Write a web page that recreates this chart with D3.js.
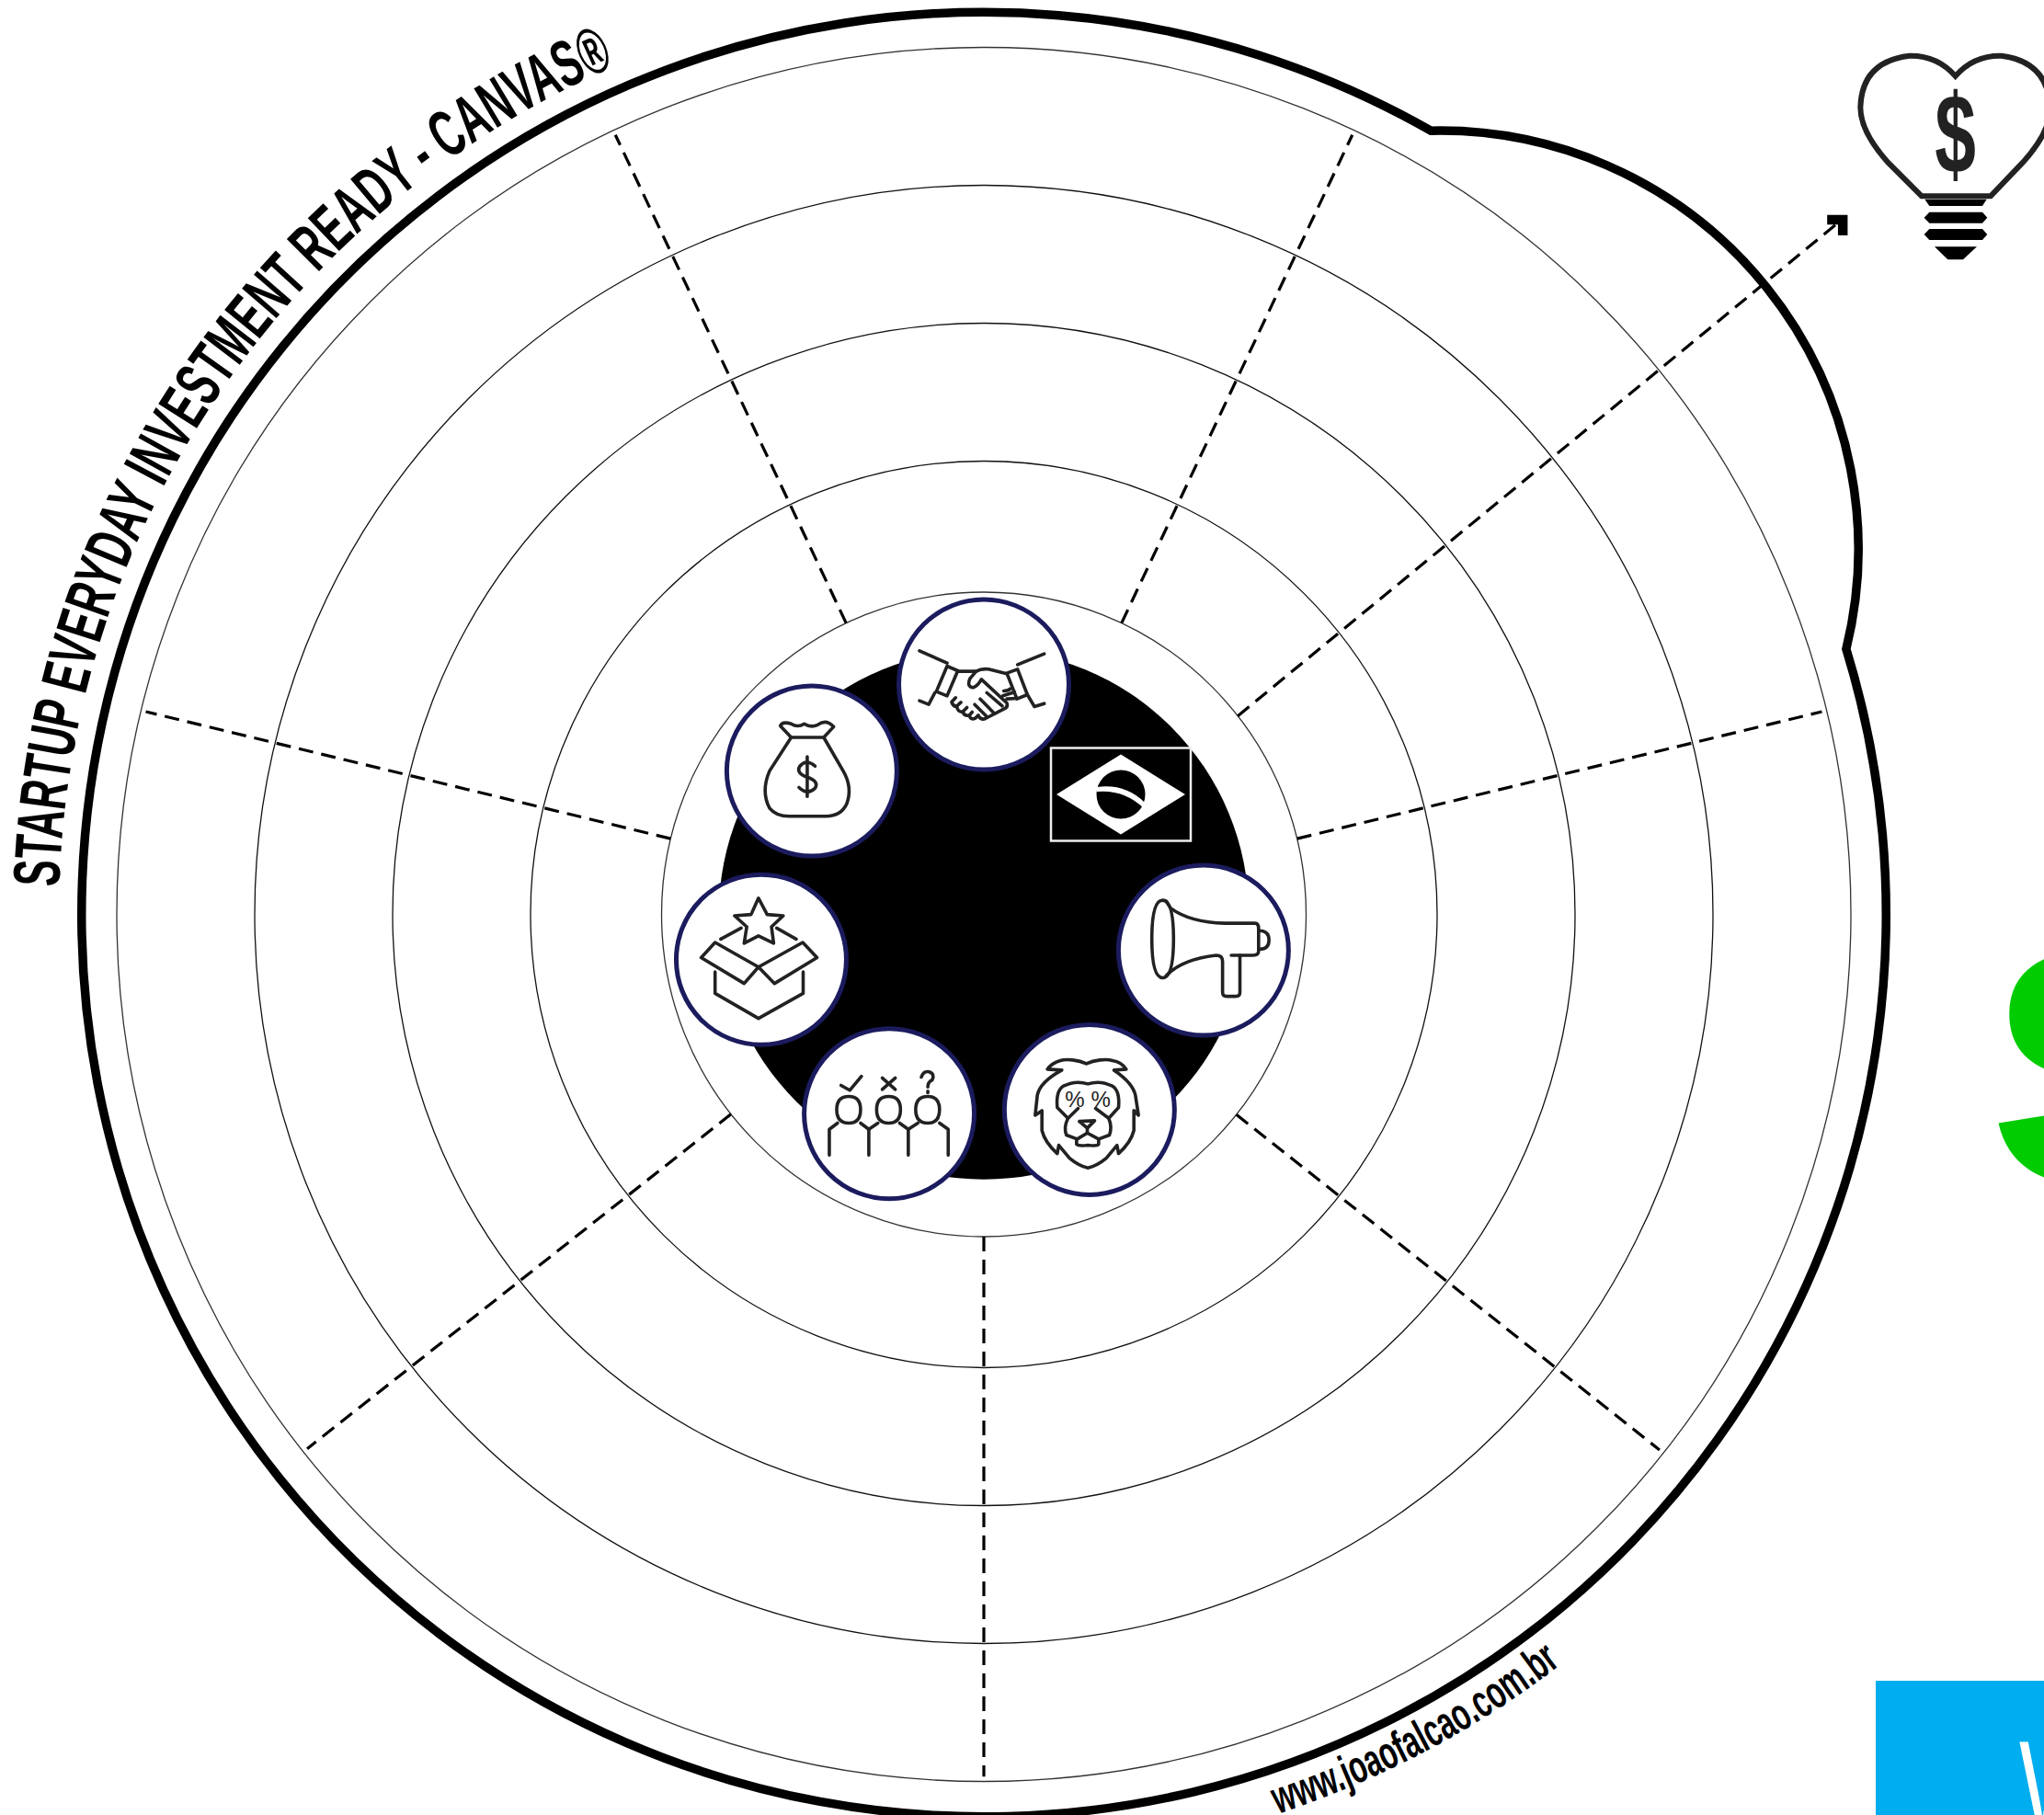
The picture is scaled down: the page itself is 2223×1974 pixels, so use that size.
<!DOCTYPE html>
<html>
<head>
<meta charset="utf-8">
<script src="https://cdn.jsdelivr.net/npm/d3@7"></script>
<style>
  html, body { margin: 0; padding: 0; background: #fff; overflow: hidden; }
  svg { display: block; }
  .glyph path { fill: none; stroke: #222; stroke-width: 3.6px; stroke-linejoin: round; stroke-linecap: round; vector-effect: non-scaling-stroke; }
</style>
</head>
<body>
<div id="cont"></div>
<script>
// canvas data
var title = "STARTUP EVERYDAY INVESTMENT READY - CANVAS®";
var website = "www.joaofalcao.com.br";
var ringLevels = [1.05, 2, 3, 4, 5];
var sectorAngles = [180, 231.7, 283.6, 334.7, 25.3, 76.4, 128.4];
var iconNames = ["handshake", "megaphone", "lion", "people", "box", "money"];
var iconAngles = [0, 99.3, 151.6, 205.4, 258.5, 309.8];
var iconLevels = [0.38, 0.327, 0.323, 0.313, 0.36, 0.337];

var width = 2223, height = 1974;
var cx = 1070, cy = 994.5;

// level -> radius, degrees -> radians
var rScale = d3.scaleLinear().domain([0, 5]).range([193, 943]);
var angleScale = d3.scaleLinear().domain([0, 360]).range([0, 2 * Math.PI]);

var outerLevel = 5.255, discLevel = 0.635, titleLevel = 5.42, siteLevel = 5.575;
var spokeLevel = 4.965, arrowAngle = 51, arrowLevel = 6.77;

function polar(deg, level) {
  return d3.pointRadial(angleScale(deg), rScale(level));
}

var canvas = d3.select("#cont")
  .append("svg")
  .attr("width", width)
  .attr("height", height)
  .style("background", "#fff");

var chart = canvas.append("g").attr("transform", "translate(" + cx + "," + cy + ")");

// outer shape: big circle with the bulge top right
var outerR = rScale(outerLevel);
var c1 = polar(29.7, outerLevel), c2 = polar(72.9, outerLevel);
chart.append("path")
  .attr("d", "M" + c1 + " A455,455 0 0 1 " + c2 + " A" + outerR + "," + outerR + " 0 1 1 " + c1 + " Z")
  .style("fill", "#fff")
  .style("stroke", "#000")
  .style("stroke-width", 9.5)
  .style("stroke-linejoin", "miter");

// rings
chart.selectAll("circle.ring")
  .data(ringLevels)
  .enter()
  .append("circle")
  .attr("class", "ring")
  .attr("r", function(d) { return rScale(d); })
  .style("fill", "none")
  .style("stroke", function(d, i) { return (i == 0 || i == 4) ? "#333" : "#111"; })
  .style("stroke-width", 1.3);

// spokes
chart.selectAll("line.spoke")
  .data(sectorAngles)
  .enter()
  .append("line")
  .attr("class", "spoke")
  .attr("x1", function(d) { return polar(d, ringLevels[0])[0]; })
  .attr("y1", function(d) { return polar(d, ringLevels[0])[1]; })
  .attr("x2", function(d) { return polar(d, spokeLevel)[0]; })
  .attr("y2", function(d) { return polar(d, spokeLevel)[1]; })
  .style("stroke", "#000")
  .style("stroke-width", 3.2)
  .style("stroke-dasharray", "16,9");

// arrow spoke
var a0 = polar(arrowAngle + 1, ringLevels[0]), a1 = polar(arrowAngle, arrowLevel - 0.02);
chart.append("line")
  .attr("x1", a0[0]).attr("y1", a0[1])
  .attr("x2", a1[0]).attr("y2", a1[1])
  .style("stroke", "#000")
  .style("stroke-width", 3.2)
  .style("stroke-dasharray", "16,9");
var tip = polar(arrowAngle, arrowLevel);
chart.append("path")
  .attr("d", "M" + (tip[0] - 22) + "," + (tip[1] + 5) + " L" + (tip[0] - 5) + "," + (tip[1] + 5) + " L" + (tip[0] - 5) + "," + (tip[1] + 22))
  .style("fill", "none")
  .style("stroke", "#000")
  .style("stroke-width", 10.5);

// black disc
chart.append("circle")
  .attr("r", rScale(discLevel))
  .style("fill", "#000");

// flag
var flag = canvas.append("g").attr("transform", "translate(1219,864)");
flag.append("rect")
  .attr("x", -76).attr("y", -50.5)
  .attr("width", 152).attr("height", 101)
  .style("fill", "#000").style("stroke", "#eee").style("stroke-width", 2.5);
flag.append("path").attr("d", "M-70,0 L0,-43.5 L70,0 L0,43.5 Z").style("fill", "#fff");
flag.append("circle").attr("r", 26.5).style("fill", "#000");
flag.append("path")
  .attr("d", "M-26,-8 Q5,-12 26,9 L25,15 Q3,-6 -26.5,-3 Z")
  .style("fill", "#fff");

// icon outlines, each in the coordinates of its own drawing
var glyphs = {
  handshake: { box: [3, 3, 270, 225], d: [
    "M60,115 L150,155", "M150,165 L185,180 L150,262 L115,248 Z", "M60,278 L90,290 L110,252",
    "M467,125 L380,160", "M380,175 L345,188 L378,272 L412,258 Z", "M467,287 L435,297 L412,258",
    "M185,182 L245,182", "M345,190 L285,175 Q262,172 245,182 L225,205 Q213,232 235,235 Q250,230 262,208 L345,285 Q350,300 335,305 L275,336 Q262,342 252,328",
    "M335,246 Q350,246 358,238", "M332,262 L370,250", "M345,272 L378,270",
    "M280,252 L330,295", "M258,272 L305,320", "M240,290 L280,330",
    "M178,268 L165,282 Q168,295 180,297 L195,283", "M182,297 Q183,312 200,315 L215,300", "M202,315 Q205,328 222,326 L232,315", "M222,326 Q228,342 242,335 L252,325"
  ], pct: [] },
  megaphone: { box: [2.119, 2.24, 1291, 928], d: [
    "M1205,808 L1215,825 Q1260,860 1340,862 L1410,862 Q1418,862 1418,875 L1418,930 Q1418,940 1405,940 L1355,940",
    "M1205,990 Q1240,950 1320,940 Q1335,940 1335,955 L1335,1030 Q1335,1040 1345,1040 L1365,1040 Q1375,1040 1375,1030 L1375,940",
    "M1420,880 Q1442,880 1442,903 Q1442,925 1420,925",
    "M1197,806 Q1172,806 1172,900 Q1172,995 1197,995 Q1222,995 1222,900 Q1222,806 1197,806 Z"
  ], pct: [] },
  lion: { box: [3, 3, 255, 262], d: [
    "M245,112 C220,100 180,95 160,102 C140,108 125,120 118,130 L165,133 C115,160 90,190 85,215 L78,280 L100,265 L100,330 Q110,370 150,405 L155,378 L190,420 Q220,445 250,452 Q280,445 310,420 L345,378 L350,405 Q390,370 400,330 L400,265 L415,280 L405,215 C400,190 375,160 335,133 L375,130 C365,115 350,105 330,102 C310,95 270,100 245,112 Z",
    "M185,290 L150,255 Q145,200 170,185 Q210,165 250,178 Q290,165 330,185 Q355,200 350,255 L318,290 L275,258",
    "M185,290 L218,258",
    "M185,290 Q170,320 180,345 L215,358 L248,338 L285,358 L320,345 Q330,320 318,290",
    "M222,300 L272,298 L248,322 Z", "M248,322 L248,338",
    "M213,358 L213,375 Q220,382 250,378 Q280,382 285,375 L285,358"
  ], pct: [[207, 252], [292, 252]] },
  people: { box: [2.119, 2.24, 566, 1327], d: [
    "M455,1258 L475,1270 L502,1236", "M550,1240 L580,1268", "M580,1240 L550,1268",
    "M640,1238 Q645,1222 658,1225 Q672,1230 665,1245 Q655,1250 655,1262", "M655,1272 L655,1276",
    "M473,1285 Q445,1285 445,1317 Q445,1350 473,1350 Q500,1350 500,1317 Q500,1285 473,1285 Z",
    "M565,1285 Q537,1285 537,1317 Q537,1350 565,1350 Q592,1350 592,1317 Q592,1285 565,1285 Z",
    "M655,1285 Q627,1285 627,1317 Q627,1350 655,1350 Q682,1350 682,1317 Q682,1285 655,1285 Z",
    "M447,1350 L428,1365 L428,1428", "M500,1350 L519,1365 L519,1428", "M540,1350 L519,1365",
    "M590,1350 L610,1365 L610,1428", "M632,1350 L610,1365", "M682,1350 L702,1365 L702,1428"
  ], pct: [] },
  box: { box: [2.119, 2.24, 271.5, 950], d: [
    "M265,800 L285,840 L322,843 L295,870 L300,910 L265,892 L232,910 L238,870 L210,843 L248,840 Z",
    "M178,900 L225,873", "M307,873 L352,900",
    "M165,908 L265,968 L232,1008 L133,945 Z", "M367,908 L400,945 L302,1008 L265,968 Z",
    "M165,980 L165,1032 L265,1093 L368,1032 L368,980"
  ], pct: [] },
  money: { box: [2.119, 2.24, 387.5, 490], d: [
    "M315,380 Q320,368 340,375 Q355,385 370,375 Q385,385 400,378 Q420,362 438,382 L415,408 L340,408 Z",
    "M340,408 L290,490 Q270,540 290,580 Q305,600 335,600 L420,600 Q455,600 468,570 Q482,530 460,490 L415,408",
    "M395,478 Q375,460 360,478 Q350,495 377,505 Q405,515 395,532 Q378,550 358,530", "M377,455 L377,552"
  ], pct: [] }
};

var icons = chart.selectAll("g.icon")
  .data(iconNames)
  .enter()
  .append("g")
  .attr("class", "icon")
  .attr("transform", function(d, i) {
    return "translate(" + polar(iconAngles[i], iconLevels[i]) + ")";
  });

icons.append("circle")
  .attr("r", 92.5)
  .style("fill", "#fff")
  .style("stroke", "#1b1b5e")
  .style("stroke-width", 5);

icons.append("g")
  .attr("class", "glyph")
  .attr("transform", function(d) {
    var b = glyphs[d].box;
    return "scale(" + (1 / b[0]) + "," + (1 / b[1]) + ") translate(" + (-b[2]) + "," + (-b[3]) + ")";
  })
  .each(function(d) {
    var g = d3.select(this);
    glyphs[d].d.forEach(function(p) { g.append("path").attr("d", p); });
    glyphs[d].pct.forEach(function(p) {
      g.append("text")
        .attr("x", p[0]).attr("y", p[1])
        .attr("text-anchor", "middle")
        .style("font-family", "Liberation Sans")
        .style("font-size", "72px")
        .style("fill", "#222")
        .text("%");
    });
  });

// curved texts
var defs = canvas.append("defs");
var t0 = polar(-88.3, titleLevel), t1 = polar(-22, titleLevel), tr = rScale(titleLevel);
defs.append("path").attr("id", "titlePath")
  .attr("d", "M" + t0 + " A" + tr + "," + tr + " 0 0 1 " + t1);
var s0 = polar(161.9, siteLevel), s1 = polar(142.3, siteLevel), sr = rScale(siteLevel);
defs.append("path").attr("id", "sitePath")
  .attr("d", "M" + s0 + " A" + sr + "," + sr + " 0 0 0 " + s1);

chart.append("text")
  .style("font-family", "Liberation Sans")
  .style("font-size", "72px")
  .style("font-weight", "700")
  .style("fill", "#000")
  .append("textPath")
  .attr("href", "#titlePath")
  .attr("textLength", 1138)
  .attr("lengthAdjust", "spacingAndGlyphs")
  .text(title);

chart.append("text")
  .style("font-family", "Liberation Sans")
  .style("font-size", "50px")
  .style("font-weight", "700")
  .style("fill", "#000")
  .append("textPath")
  .attr("href", "#sitePath")
  .attr("textLength", 350)
  .attr("lengthAdjust", "spacingAndGlyphs")
  .text(website);

// bulb, top right
var bulb = canvas.append("g").attr("transform", "translate(1950,0) scale(0.3333)");
bulb.append("path")
  .attr("d", "M420,640 L310,530 Q220,430 220,350 Q225,200 380,182 Q470,180 530,248 Q590,180 680,182 Q830,200 840,350 Q840,430 750,530 L645,640 Z")
  .style("fill", "#fff").style("stroke", "#222").style("stroke-width", 18);
bulb.append("text")
  .attr("transform", "translate(530,565) scale(0.66,1)")
  .attr("text-anchor", "middle")
  .style("font-family", "Liberation Sans")
  .style("font-weight", "700")
  .style("font-size", "365px")
  .style("fill", "#222")
  .text("$");
var screwLines = [
  "M430,650 L632,650 L618,672 L445,672 Z",
  "M428,710 L445,692 L618,692 L634,710 L618,728 L445,728 Z",
  "M428,765 L445,747 L618,747 L634,765 L618,783 L445,783 Z",
  "M462,805 L600,805 L555,847 L505,847 Z"
];
bulb.selectAll("path.screw")
  .data(screwLines)
  .enter()
  .append("path")
  .attr("class", "screw")
  .attr("d", function(d) { return d; })
  .style("fill", "#000");

// cut off brand pieces on the right edge
canvas.append("text")
  .attr("x", 2163).attr("y", 1287)
  .style("font-family", "Liberation Sans")
  .style("font-weight", "700")
  .style("font-size", "365px")
  .style("fill", "#00cc00")
  .text("S");

canvas.append("rect")
  .attr("x", 2040).attr("y", 1828)
  .attr("width", 183).attr("height", 146)
  .style("fill", "#00adef");

canvas.append("text")
  .attr("transform", "translate(2196,1989) scale(0.7,1)")
  .style("font-family", "Liberation Sans")
  .style("font-size", "137px")
  .style("fill", "#fff")
  .text("W");
</script>
</body>
</html>
